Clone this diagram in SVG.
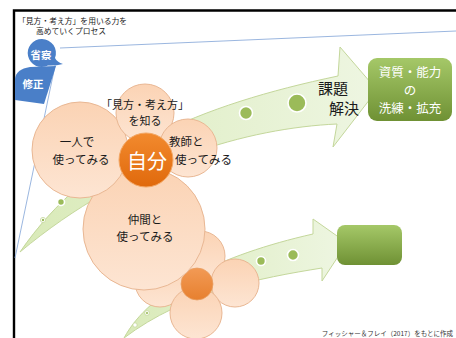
<svg xmlns="http://www.w3.org/2000/svg" width="456" height="338" viewBox="0 0 456 338">
<defs>
<style>
text{font-family:"Noto Sans CJK JP","Noto Sans",sans-serif;}
.t{font-size:11.5px;fill:#1a1a1a;text-anchor:middle;}
.petal{fill:url(#peach);stroke:#e9b793;stroke-width:1;}
.arrow{fill:url(#arrowG);stroke:#c4d79b;stroke-width:1;}
.dot{fill:#9bbb59;stroke:#ffffff;stroke-width:1.6;}
.persp{fill:none;stroke:#8eaedb;stroke-width:0.9;}
.blue{fill:#4a7fc8;}
.bt{font-size:10.5px;fill:#ffffff;text-anchor:middle;font-weight:bold;}
.gt{font-size:12.5px;fill:#ffffff;text-anchor:middle;}
.kt{font-size:15px;fill:#1a1a1a;text-anchor:middle;}
</style>
<linearGradient id="peach" x1="0" y1="0" x2="0" y2="1">
<stop offset="0" stop-color="#fbd3b4"/>
<stop offset="1" stop-color="#fde5d3"/>
</linearGradient>
<linearGradient id="orange" x1="0" y1="0" x2="0" y2="1">
<stop offset="0" stop-color="#f28a2e"/>
<stop offset="1" stop-color="#e0690c"/>
</linearGradient>
<linearGradient id="orange2" x1="0" y1="0" x2="0" y2="1">
<stop offset="0" stop-color="#f29a55"/>
<stop offset="1" stop-color="#e7802f"/>
</linearGradient>
<linearGradient id="arrowG" x1="0" y1="0" x2="1" y2="0">
<stop offset="0" stop-color="#d9eab8"/>
<stop offset="1" stop-color="#eef6e2"/>
</linearGradient>
<linearGradient id="greenBox" x1="0" y1="0" x2="0" y2="1">
<stop offset="0" stop-color="#a5c868"/>
<stop offset="1" stop-color="#6f9134"/>
</linearGradient>
</defs>
<rect width="456" height="338" fill="#ffffff"/>

<!-- frame -->
<path d="M14,338 V10.5 H456" fill="none" stroke="#000000" stroke-width="2.4"/>

<!-- title text -->
<g id="title">
<text x="18" y="24" style="font-size:7.8px;fill:#1a1a1a;">「見方・考え方」を用いる力を</text>
<text x="71" y="34" style="font-size:7.8px;fill:#1a1a1a;text-anchor:middle;">高めていくプロセス</text>
</g>

<!-- connectors / arrows -->
<g id="connectors">
<path class="persp" d="M60,48 L456,31"/>
<path class="persp" d="M56,61 L15,258"/>
<path class="arrow" d="M20,252 C90,150 200,105 338,76 L340,47 L377,90 L333,147 L337,124 C250,128 130,160 20,252 Z"/>
<path class="arrow" d="M124,338 C150,290 220,255 313,234 L313,219 L347,243 L322,281 L322,268 C260,278 185,292 124,338 Z"/>
<circle class="dot" cx="61" cy="202" r="3.5"/>
<circle cx="43" cy="220" r="2.6" fill="#ffffff" stroke="#c4d79b" stroke-width="0.8"/>
<circle cx="43" cy="220" r="1.2" fill="#9bbb59"/>
<circle class="dot" cx="246" cy="113" r="6.5"/>
<circle class="dot" cx="297" cy="103" r="9"/>
<circle class="dot" cx="261" cy="261" r="4.5"/>
<circle class="dot" cx="293" cy="255" r="5.5"/>
<circle cx="147" cy="313" r="2.4" fill="#ffffff" stroke="#c4d79b" stroke-width="0.8"/>
<circle cx="147" cy="313" r="1.1" fill="#9bbb59"/>
<circle cx="135" cy="325" r="2.2" fill="#ffffff" stroke="#c4d79b" stroke-width="0.8"/>
</g>

<!-- blue shapes -->
<g id="revise">
<path class="blue" d="M15,79 Q16,69 30,67 L56,66 L44,104 L15,100 Z"/>
<text class="bt" x="33" y="88">修正</text>
</g>
<g id="reflect">
<path class="blue" d="M42,39 A14,14 0 0 1 55,58 Q57,62 63,64 Q55,66 48,65.5 A14,14 0 1 1 42,39 Z"/>
<text class="bt" x="41" y="58.5">省察</text>
</g>

<!-- lower flower -->
<g id="lower-flower">
<circle class="petal" cx="200" cy="256" r="25"/>
<circle class="petal" cx="160" cy="282" r="25"/>
<circle class="petal" cx="235" cy="283" r="24"/>
<circle class="petal" cx="196" cy="313" r="26"/>
<circle cx="197" cy="284" r="16" fill="url(#orange2)" stroke="#e9a063" stroke-width="0.8"/>
</g>

<!-- upper flower -->
<g id="nakama">
<circle class="petal" cx="144" cy="229" r="61"/>
<text class="t" x="145" y="224">仲間と</text>
<text class="t" x="145" y="241">使ってみる</text>
</g>
<g id="hitori">
<circle class="petal" cx="80" cy="150" r="48"/>
<text class="t" x="77" y="146">一人で</text>
<text class="t" x="81" y="164">使ってみる</text>
</g>
<g id="shiru">
<circle class="petal" cx="145" cy="113" r="29"/>
<text class="t" x="145" y="109" style="font-size:11px;">「見方・考え方」</text>
<text class="t" x="145" y="124.5" style="font-size:11px;">を知る</text>
</g>
<g id="kyoshi">
<circle class="petal" cx="188" cy="148" r="29"/>
<text class="t" x="169" y="146" style="text-anchor:start;">教師と</text>
<text class="t" x="175" y="164" style="text-anchor:start;">使ってみる</text>
</g>
<g id="jibun">
<circle cx="146" cy="160" r="27" fill="url(#orange)" stroke="#f3a765" stroke-width="1"/>
<text x="147" y="169" style="font-size:20px;fill:#ffffff;text-anchor:middle;">自分</text>
</g>

<!-- labels -->
<g id="kadai">
<text class="kt" x="333" y="94">課題</text>
<text class="kt" x="344" y="114">解決</text>
</g>

<!-- goal boxes -->
<g id="goal-top">
<rect x="368" y="58" width="84" height="63" rx="9" fill="url(#greenBox)"/>
<text class="gt" x="410" y="76.5">資質・能力</text>
<text class="gt" x="410" y="94.5">の</text>
<text class="gt" x="410" y="112.5">洗練・拡充</text>
</g>
<g id="goal-bottom">
<rect x="337" y="225" width="65" height="40" rx="8" fill="url(#greenBox)"/>
</g>

<!-- footer -->
<text x="453" y="336" style="font-size:6.5px;fill:#333333;text-anchor:end;">フィッシャー＆フレイ（2017）をもとに作成</text>
</svg>
